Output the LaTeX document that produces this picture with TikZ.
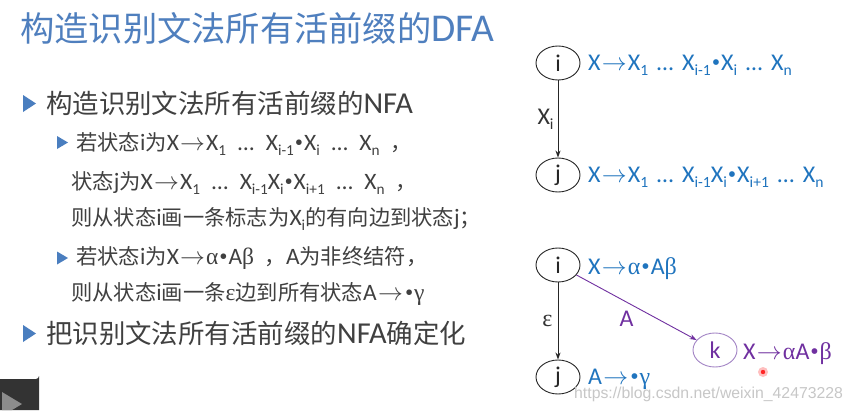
\documentclass[tikz,border=0pt]{standalone}
\usepackage{fontspec}
\setmainfont{Carlito}
\newfontfamily\cjk[Scale=0.87]{Noto Sans CJK SC}
\newfontfamily\cjks[Scale=0.906]{Noto Sans CJK SC}
\newfontfamily\grk{Liberation Serif}
\newfontfamily\wmfont{Liberation Sans}
\usetikzlibrary{arrows.meta,shapes.geometric}
\definecolor{titleblue}{HTML}{4F7FBE}
\definecolor{bulletblue}{HTML}{4A7EBF}
\definecolor{txtgray}{HTML}{404040}
\definecolor{itemblue}{HTML}{1F74BE}
\definecolor{purp}{HTML}{7030A0}
\definecolor{kring}{HTML}{A385C5}
\newcommand\sbs[1]{\raisebox{-0.2em}{\scalebox{0.65}{#1}}}
\newcommand\zh[1]{{\cjk #1}}
\newcommand\zs[1]{{\cjks #1}}
\newcommand\gra{{\grk α}}
\newcommand\grb{{\grk β}}
\newcommand\grg{{\grk γ}}
\newcommand\gre{{\grk ε}}
\newcommand\bul{\kern0.04em{\grk •}\kern0.04em}
\newcommand\ar{\kern0.05em$\rightarrow$\kern0.05em}
\newcommand\elL{\kern0.5em…\kern0.5em}
\newcommand\elR{\kern0.36em…\kern0.36em}
\begin{document}
\begin{tikzpicture}[x=1pt,y=-1pt,
  txt/.style={anchor=base west, inner sep=0pt, text=txtgray},
  bigbul/.style={fill=bulletblue},
  subfont/.style={font=\fontsize{23.5}{28}\selectfont},
  state/.style={draw=black!85, line width=0.9pt, ellipse, minimum width=44pt, minimum height=34pt, inner sep=0pt, font=\fontsize{24}{28}\selectfont, text=black!85},
  item/.style={anchor=base west, inner sep=0pt, font=\fontsize{24}{28}\selectfont},
  arr/.style={-{Stealth[length=7pt,width=5pt]}, line width=0.9pt},
  lbl/.style={inner sep=0pt, font=\fontsize{24}{28}\selectfont}]
\useasboundingbox (0,0) rectangle (857,410);
\fill[white] (0,0) rectangle (857,410);

% title
\node[anchor=base west, inner sep=0pt, text=titleblue, font=\fontsize{39.4}{45}\selectfont] (title) at (20,41) {\zh{构造识别文法所有活前缀的}DFA};

% bullets
\fill[bigbul] (23,95) -- (36,103.5) -- (23,112) -- cycle;
\node[txt, font=\fontsize{30.4}{34}\selectfont] (b1) at (46,113) {\zh{构造识别文法所有活前缀的}NFA};

\fill[bigbul] (57,136) -- (68,142.5) -- (57,149) -- cycle;
\node[txt, subfont] (s1a) at (76,150.5) {\zs{若状态}i\zs{为}X\ar X\sbs{1}\elL X\sbs{i-1}\bul X\sbs{i}\elL X\sbs{n} \ \zs{，}};
\node[txt, subfont] (s1b) at (71,189.5) {\zs{状态}j\zs{为}X\ar X\sbs{1}\elL X\sbs{i-1}X\sbs{i}\bul X\sbs{i+1}\elL X\sbs{n} \ \zs{，}};
\node[txt, subfont] (s1c) at (71,225.5) {\zs{则从状态}i\zs{画一条标志为}X\sbs{i}\zs{的有向边到状态}j\zs{；}};

\fill[bigbul] (57,251.5) -- (68,258) -- (57,264.5) -- cycle;
\node[txt, subfont] (s2a) at (76,264.5) {\zs{若状态}i\zs{为}X\ar\gra\bul A\grb \ \ \zs{，}A\zs{为非终结符，}};
\node[txt, subfont] (s2b) at (71,300.5) {\zs{则从状态}i\zs{画一条}\gre\zs{边到所有状态}A\ar\bul\grg};

\fill[bigbul] (23,325) -- (36,333.5) -- (23,342) -- cycle;
\node[txt, font=\fontsize{30.4}{34}\selectfont] (b3) at (46,343) {\zh{把识别文法所有活前缀的}NFA\zh{确定化}};

% top diagram
\node[state] (ti) at (558,63) {i};
\node[state] (tj) at (558,175) {j};
\draw[arr, black!85] (ti) -- node[lbl, left=4pt, text=black!80] (tx) {X\sbs{i}} (tj);
\node[item, text=itemblue] (til) at (588,70.5) {X\ar X\sbs{1}\elR X\sbs{i-1}\bul X\sbs{i}\elR X\sbs{n}};
\node[item, text=itemblue] (tjl) at (588,182.5) {X\ar X\sbs{1}\elR X\sbs{i-1}X\sbs{i}\bul X\sbs{i+1}\elR X\sbs{n}};

% bottom diagram
\node[state] (bi) at (558,265) {i};
\node[state] (bj) at (558,377) {j};
\node[state, draw=kring, text=purp] (bk) at (715,350) {k};
\draw[arr, black!85] (bi) -- node[lbl, left=5pt, text=black!80] (eps) {\gre} (bj);
\draw[arr, purp] (bi) -- node[lbl, pos=0.45, xshift=-4pt, yshift=-15pt, text=purp] (la) {A} (bk);
\node[item, text=itemblue] (bil) at (588,274.5) {X\ar\gra\bul A\grb};
\node[item, text=itemblue] (bjl) at (588,384.5) {A\ar\bul\grg};
\node[item, text=purp] (bkl) at (743,359.5) {X\ar\gra A\bul\grb};

% watermark and marks
\node[anchor=west, inner sep=0pt, text=black!22, font=\wmfont\fontsize{15.8}{19}\selectfont] (wm) at (574,394) {https://blog.csdn.net/weixin\_42473228};
\fill[red!25] (763,372) circle (5);
\fill[red!85] (763,372) circle (2.2);

% player button
\fill[black!80] (0,379) -- (36,379) arc (90:0:3) -- (39,410) -- (0,410) -- cycle;
\fill[black!45] (2,392) -- (22,404) -- (12,410) -- (2,410) -- cycle;
\end{tikzpicture}
\end{document}
